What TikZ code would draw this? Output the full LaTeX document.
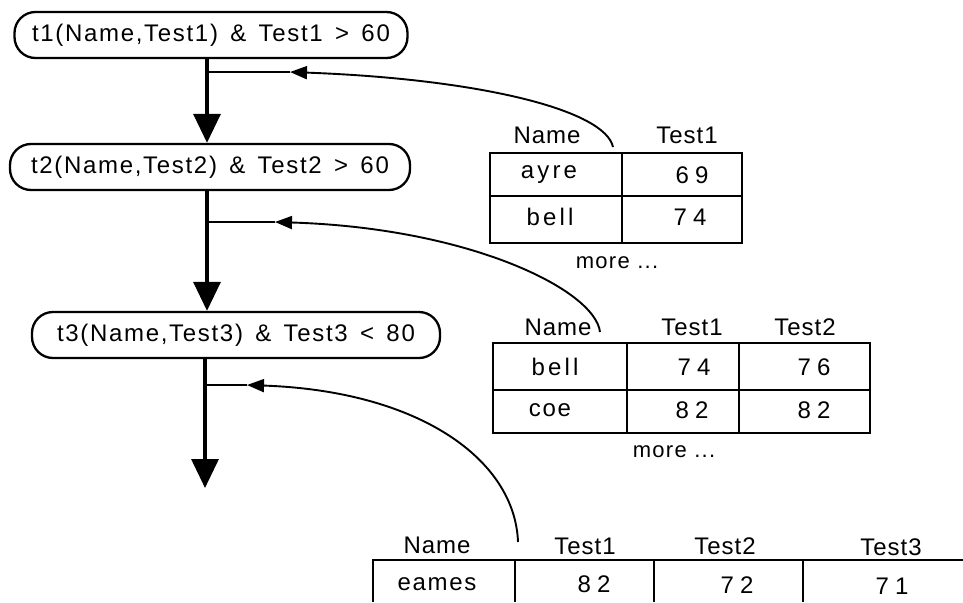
\documentclass[tikz,border=0pt]{standalone}
\usepackage{fontspec}
\setmainfont{Liberation Sans}
\usetikzlibrary{arrows.meta}
\begin{document}
\begin{tikzpicture}[x=1pt,y=-1pt,
  cond/.style={draw,line width=2.3pt,rounded corners=21pt,minimum height=46pt,inner sep=0pt,font=\fontsize{24}{26}\selectfont\addfontfeature{LetterSpace=7}},
  flow/.style={line width=3.3pt,-{Triangle[length=29pt,width=27pt]}},
  feed/.style={line width=1.9pt,-{Triangle[length=17pt,width=13pt]}},
  tab/.style={line width=2.3pt},
  lab/.style={font=\fontsize{24}{26}\selectfont\addfontfeature{LetterSpace=4}},
  word/.style={font=\fontsize{24}{26}\selectfont\addfontfeature{LetterSpace=13}},
  tightword/.style={font=\fontsize{24}{26}\selectfont\addfontfeature{LetterSpace=7}},
  num/.style={font=\fontsize{24}{26}\selectfont\addfontfeature{LetterSpace=25}},
  more/.style={font=\fontsize{22}{24}\selectfont\addfontfeature{LetterSpace=6}}]
\useasboundingbox (0,0) rectangle (963,602);
% condition nodes
\node[cond,minimum width=393pt] (n1) at (211,35) {t1(Name,Test1)\, \& \,Test1 \,>\, 60};
\node[cond,minimum width=400pt] (n2) at (210,167) {t2(Name,Test2)\, \& \,Test2 \,>\, 60};
\node[cond,minimum width=408pt] (n3) at (236,335) {t3(Name,Test3)\, \& \,Test3 \,<\, 80};
% main flow
\coordinate (s1) at (207,58);
\coordinate (s2) at (207,190);
\coordinate (s3) at (205,358);
\coordinate (e3) at (205,488);
\coordinate (j1) at (207,72);
\coordinate (j2) at (207,222);
\coordinate (j3) at (205,385);
\draw[flow] (s1) -- (n2.north -| s1);
\draw[flow] (s2) -- (n3.north -| s2);
\draw[flow] (s3) -- (e3);
% table 1
\draw[tab] (490,153) rectangle (742,243);
\draw[tab] (490,196) -- (742,196) (622,153) -- (622,243);
\node[lab] (t1h1) at (547,135) {Name};
\node[lab] (t1h2) at (687,135) {Test1};
\node[word] (t1a) at (549,175) {ayre};
\node[num] (t1b) at (692,175) {69};
\node[word] (t1c) at (550,217) {bell};
\node[num] (t1d) at (690,217) {74};
\node[more] (t1m) at (617,263) {more ...};
% table 2
\draw[tab] (493,343) rectangle (870,433);
\draw[tab] (493,390) -- (870,390) (627,343) -- (627,433) (739,343) -- (739,433);
\node[lab] (t2h1) at (558,327) {Name};
\node[lab] (t2h2) at (692,327) {Test1};
\node[lab] (t2h3) at (805,327) {Test2};
\node[word] (t2a) at (555,367) {bell};
\node[num] (t2b) at (694,367) {74};
\node[num] (t2c) at (814,367) {76};
\node[tightword] (t2d) at (550,410) {coe};
\node[num] (t2e) at (692,410) {82};
\node[num] (t2f) at (814,410) {82};
\node[more] (t2m) at (674,452) {more ...};
% table 3
\draw[tab] (963,560) -- (373,560) -- (373,602);
\draw[tab] (515,560) -- (515,602) (654,560) -- (654,602) (803,560) -- (803,602);
\node[lab] (t3h1) at (437,545) {Name};
\node[lab] (t3h2) at (585,546) {Test1};
\node[lab] (t3h3) at (725,546) {Test2};
\node[lab] (t3h4) at (891,547) {Test3};
\node[tightword] (t3a) at (437,584) {eames};
\node[num] (t3b) at (594,584) {82};
\node[num] (t3c) at (737,585) {72};
\node[num] (t3d) at (892,586) {71};
% feedback curves
\coordinate (c1) at (613,147);
\coordinate (c2) at (600,332);
\coordinate (c3) at (518,542);
\coordinate (a1) at (290,72);
\coordinate (a2) at (275,222);
\coordinate (a3) at (247,385);
\draw[feed] (c1) .. controls (605,110) and (480,79) .. (a1);
\draw[line width=1.9pt] (a1) -- (j1);
\draw[feed] (c2) .. controls (595,290) and (470,228) .. (a2);
\draw[line width=1.9pt] (a2) -- (j2);
\draw[feed] (c3) .. controls (515,460) and (420,391) .. (a3);
\draw[line width=1.9pt] (a3) -- (j3);
\end{tikzpicture}
\end{document}
